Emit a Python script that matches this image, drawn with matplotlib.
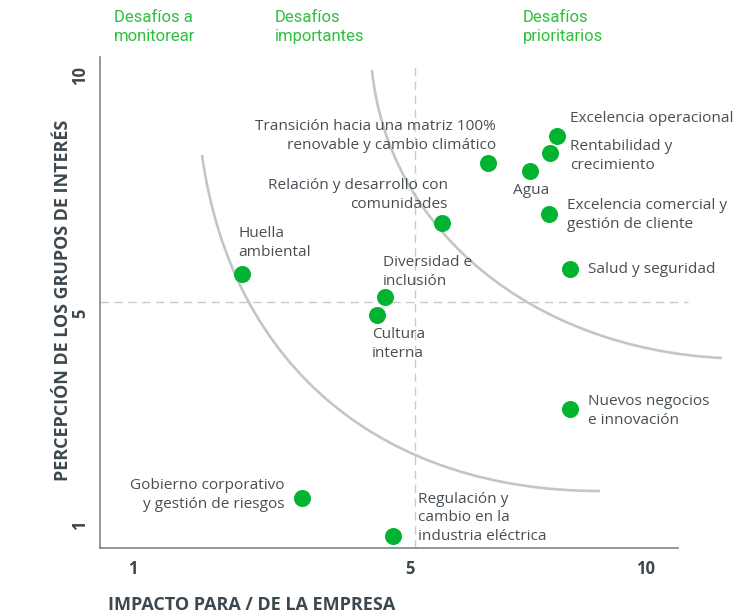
import matplotlib
matplotlib.use("Agg")
import matplotlib.pyplot as plt
from matplotlib.path import Path
from matplotlib.patches import PathPatch

# ---------------- data ----------------
labels = [
    "Excelencia operacional",
    "Rentabilidad y\ncrecimiento",
    "Agua",
    "Transición hacia una matriz 100%\nrenovable y cambio climático",
    "Excelencia comercial y\ngestión de cliente",
    "Relación y desarrollo con\ncomunidades",
    "Salud y seguridad",
    "Huella\nambiental",
    "Diversidad e\ninclusión",
    "Cultura\ninterna",
    "Nuevos negocios\ne innovación",
    "Gobierno corporativo\ny gestión de riesgos",
    "Regulación y\ncambio en la\nindustria eléctrica",
]
impacto = [8.45, 8.33, 7.98, 7.24, 8.31, 6.43, 8.68, 2.92, 5.43, 5.29, 8.68, 3.97, 5.57]
percepcion = [8.80, 8.45, 8.09, 8.25, 7.23, 7.05, 6.13, 6.03, 5.57, 5.21, 3.32, 1.54, 0.78]

x_tick_pos = [1, 5.87, 10]
x_tick_labels = ["1", "5", "10"]
y_tick_pos = [1, 5.25, 10]
y_tick_labels = ["1", "5", "10"]

headers = ["Desafíos a\nmonitorear", "Desafíos\nimportantes", "Desafíos\nprioritarios"]

# ---------------- styling ----------------
FONT = "Open Sans"
TXT = "#474f55"
AXC = "#3c474e"
GREEN_DOT = "#00b432"
GREEN_TXT = "#2cc03c"
CURVE = "#c4c6c6"

# label offsets in pixels (dx, dy) and alignment
offsets = [
    (13, 17, "left"), (20, -3, "left"), (1, -19, "center"), (8, 27, "right"),
    (18, -1, "left"), (6, 28, "right"), (18, 0, "left"), (-4, 31, "left"),
    (-2, 25, "left"), (-5, -29, "left"), (18, -2, "left"), (-17, 3, "right"),
    (25, 18, "left"),
]

W, H = 746, 615
fig = plt.figure(figsize=(W / 100, H / 100), dpi=100)
ax = fig.add_axes([100 / W, (H - 548) / H, 578 / W, (548 - 57) / H])
ax.set_xlim(0.42, 10.578)
ax.set_ylim(0.539, 10.379)

for s in ["top", "right"]:
    ax.spines[s].set_visible(False)
for s in ["left", "bottom"]:
    ax.spines[s].set_color("#7d868c")
    ax.spines[s].set_linewidth(1.2)

ax.set_xticks(x_tick_pos)
ax.set_xticklabels(x_tick_labels, fontfamily=FONT, fontweight="bold", fontsize=12, color=AXC)
ax.set_yticks(y_tick_pos)
ax.set_yticklabels(y_tick_labels, fontfamily=FONT, fontweight="bold", fontsize=12, color=AXC,
                   rotation=90, va="center")
ax.tick_params(axis="both", length=0)
ax.tick_params(axis="x", pad=9)
ax.tick_params(axis="y", pad=8)

# dashed quadrant lines
vl, = ax.plot([5.956, 5.956], [0.539, 10.28], color="#c8cacb", lw=1.0, zorder=1)
vl.set_dashes([6, 4])
hl, = ax.plot([0.42, 10.75], [5.469, 5.469], color="#c8cacb", lw=1.0, zorder=1, clip_on=False)
hl.set_dashes([6, 4])

# curved boundaries (cubic Bezier in data space)
inner = [(2.213, 8.415), (2.740, 4.106), (5.429, 1.681), (9.207, 1.681)]
outer = [(5.200, 10.118), (5.482, 6.912), (8.012, 4.537), (11.351, 4.347)]
codes = [Path.MOVETO, Path.CURVE4, Path.CURVE4, Path.CURVE4]
for pts in (inner, outer):
    patch = PathPatch(Path(pts, codes), facecolor="none", edgecolor=CURVE, lw=1.9,
                      clip_on=False, zorder=2)
    ax.add_patch(patch)

# points
ax.scatter(impacto, percepcion, s=150, color=GREEN_DOT, zorder=4, linewidths=0, clip_on=False)

for lab, x, y, (dx, dy, ha) in zip(labels, impacto, percepcion, offsets):
    ax.annotate(lab, (x, y), xytext=(dx, dy), textcoords="offset pixels",
                ha=ha, va="center", fontsize=11.1, fontfamily=FONT, color=TXT,
                linespacing=1.33, zorder=5, annotation_clip=False)

# headers
for txt, px in zip(headers, [114, 275, 523]):
    fig.text(px / W, 1 - 27 / H, txt, ha="left", va="center", fontsize=12,
             fontfamily="Roboto", color=GREEN_TXT, linespacing=1.32)

# axis titles
fig.text(108 / W, 1 - 605 / H, "IMPACTO PARA / DE LA EMPRESA", ha="left", va="center",
         fontsize=13, fontweight="bold", fontfamily=FONT, color=AXC)
fig.text(63 / W, 1 - 300 / H, "PERCEPCIÓN DE LOS GRUPOS DE INTERÉS", ha="center", va="center",
         rotation=90, fontsize=12.9, fontweight="bold", fontfamily=FONT, color=AXC)

fig.savefig("out.png", dpi=100)
